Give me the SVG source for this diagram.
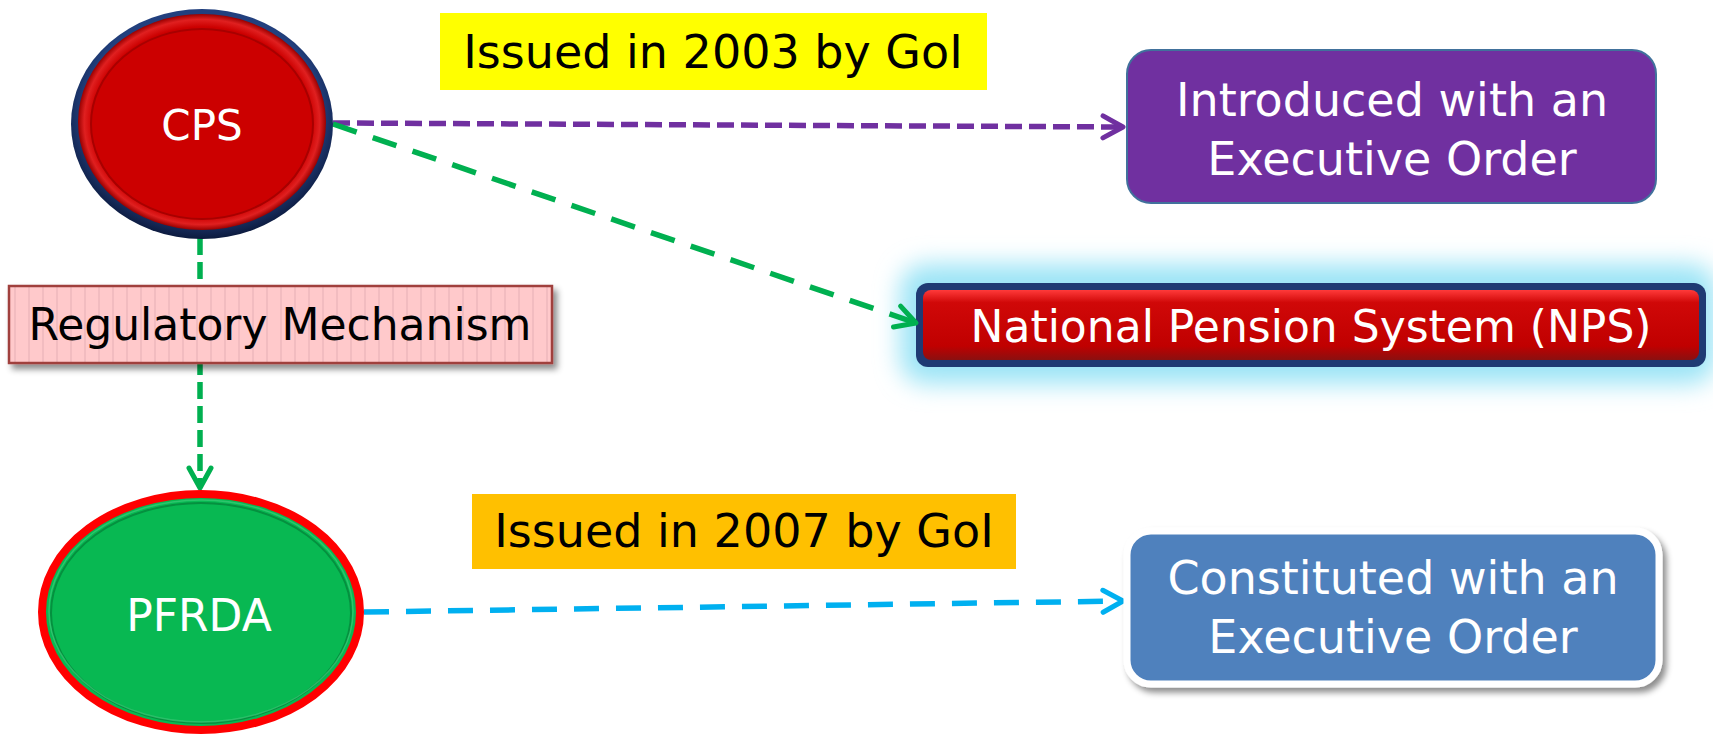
<svg xmlns="http://www.w3.org/2000/svg" width="1713" height="738" viewBox="0 0 1713 738">
<style>
  .t { font-family: "DejaVu Sans", "Liberation Sans", sans-serif; text-anchor: middle; }
  .w { fill: #ffffff; }
  .k { fill: #000000; }
  .dash { fill: none; stroke-width: 5.5; }
  .short { stroke-dasharray: 17 7; }
  .long { stroke-dasharray: 25 17; }
</style>
<defs>
  <marker id="ap" markerUnits="userSpaceOnUse" markerWidth="32" markerHeight="30" refX="25" refY="14" orient="auto">
    <path d="M5,3 L25,14 L5,25" fill="none" stroke="#7030A0" stroke-width="5" stroke-linejoin="round" stroke-linecap="round"/>
  </marker>
  <marker id="ag" markerUnits="userSpaceOnUse" markerWidth="32" markerHeight="30" refX="25" refY="14" orient="auto">
    <path d="M5,3 L25,14 L5,25" fill="none" stroke="#00B050" stroke-width="5" stroke-linejoin="round" stroke-linecap="round"/>
  </marker>
  <marker id="ac" markerUnits="userSpaceOnUse" markerWidth="32" markerHeight="30" refX="25" refY="14" orient="auto">
    <path d="M5,3 L25,14 L5,25" fill="none" stroke="#00B0F0" stroke-width="5" stroke-linejoin="round" stroke-linecap="round"/>
  </marker>
  <radialGradient id="navyRing" cx="50%" cy="45%" r="55%">
    <stop offset="0.82" stop-color="#22407e"/>
    <stop offset="1" stop-color="#0c1a3e"/>
  </radialGradient>
  <radialGradient id="redBtn" cx="50%" cy="50%" r="50%">
    <stop offset="0.88" stop-color="#CC0000"/>
    <stop offset="0.95" stop-color="#E02020"/>
    <stop offset="1" stop-color="#9a0000"/>
  </radialGradient>
  <linearGradient id="npsRed" x1="0" y1="0" x2="0" y2="1">
    <stop offset="0" stop-color="#FF3a3a"/>
    <stop offset="0.18" stop-color="#D00808"/>
    <stop offset="0.8" stop-color="#C00000"/>
    <stop offset="1" stop-color="#8a1010"/>
  </linearGradient>
  <filter id="glow" x="-10%" y="-80%" width="120%" height="260%">
    <feGaussianBlur stdDeviation="12"/>
  </filter>
  <filter id="shadow" x="-10%" y="-20%" width="125%" height="150%">
    <feDropShadow dx="4" dy="5" stdDeviation="3" flood-color="#000000" flood-opacity="0.45"/>
  </filter>
  <pattern id="stripes" patternUnits="userSpaceOnUse" width="14" height="10">
    <rect width="14" height="10" fill="#FFC9CB"/>
    <rect x="0" width="2" height="10" fill="#F2BCC0"/>
  </pattern>
</defs>

<g id="nps">
  <rect x="900" y="264" width="816" height="120" rx="26" fill="#9BE4F6" filter="url(#glow)"/>
  <rect x="916" y="283" width="790" height="84" rx="12" fill="#1F3A73"/>
  <rect x="923" y="290" width="776" height="70" rx="8" fill="url(#npsRed)"/>
  <text class="t w" x="1311" y="342" font-size="44">National Pension System (NPS)</text>
</g>

<g id="connectors">
  <line class="dash short" x1="200" y1="238" x2="200" y2="488" stroke="#00B050" marker-end="url(#ag)"/>
  <line class="dash short" x1="333" y1="123" x2="1123" y2="127" stroke="#7030A0" marker-end="url(#ap)"/>
  <line class="dash long" x1="333" y1="124" x2="916" y2="323" stroke="#00B050" marker-end="url(#ag)"/>
  <line class="dash long" x1="364" y1="612" x2="1123" y2="601" stroke="#00B0F0" marker-end="url(#ac)"/>
</g>

<g id="cps">
  <ellipse cx="202" cy="124" rx="131" ry="115" fill="url(#navyRing)"/>
  <ellipse cx="202" cy="122" rx="124" ry="108" fill="url(#redBtn)"/>
  <ellipse cx="202" cy="124" rx="111" ry="95" fill="#CC0000" stroke="#A80000" stroke-width="2"/>
  <text class="t w" x="202" y="140" font-size="42">CPS</text>
</g>

<g id="regulatory">
  <rect x="9" y="286" width="543" height="77" fill="url(#stripes)" stroke="#A0403E" stroke-width="2.5" filter="url(#shadow)"/>
  <text class="t k" x="280" y="340" font-size="44">Regulatory Mechanism</text>
</g>

<g id="pfrda">
  <ellipse cx="201" cy="612" rx="159" ry="118" fill="#08B852" stroke="#FF0000" stroke-width="8"/>
  <ellipse cx="201" cy="613" rx="150" ry="110" fill="none" stroke="#05903F" stroke-width="2"/>
  <ellipse cx="201" cy="611" rx="152" ry="111" fill="none" stroke="#3CCB78" stroke-width="1.5" opacity="0.7"/>
  <text class="t w" x="199" y="631" font-size="44">PFRDA</text>
</g>

<g id="label2003">
  <rect x="440" y="13" width="547" height="77" fill="#FFFF00"/>
  <text class="t k" x="713" y="68" font-size="46">Issued in 2003 by GoI</text>
</g>

<g id="label2007">
  <rect x="472" y="494" width="544" height="75" fill="#FFC000"/>
  <text class="t k" x="744" y="547" font-size="46">Issued in 2007 by GoI</text>
</g>

<g id="introduced">
  <rect x="1127" y="50" width="529" height="153" rx="24" fill="#7030A0" stroke="#41719C" stroke-width="2"/>
  <text class="t w" x="1392" y="116" font-size="46">Introduced with an</text>
  <text class="t w" x="1392" y="175" font-size="46">Executive Order</text>
</g>

<g id="constituted">
  <rect x="1127" y="531" width="532" height="153" rx="24" fill="#4F81BD" stroke="#FFFFFF" stroke-width="7" filter="url(#shadow)"/>
  <text class="t w" x="1393" y="594" font-size="46">Constituted with an</text>
  <text class="t w" x="1393" y="653" font-size="46">Executive Order</text>
</g>
</svg>
